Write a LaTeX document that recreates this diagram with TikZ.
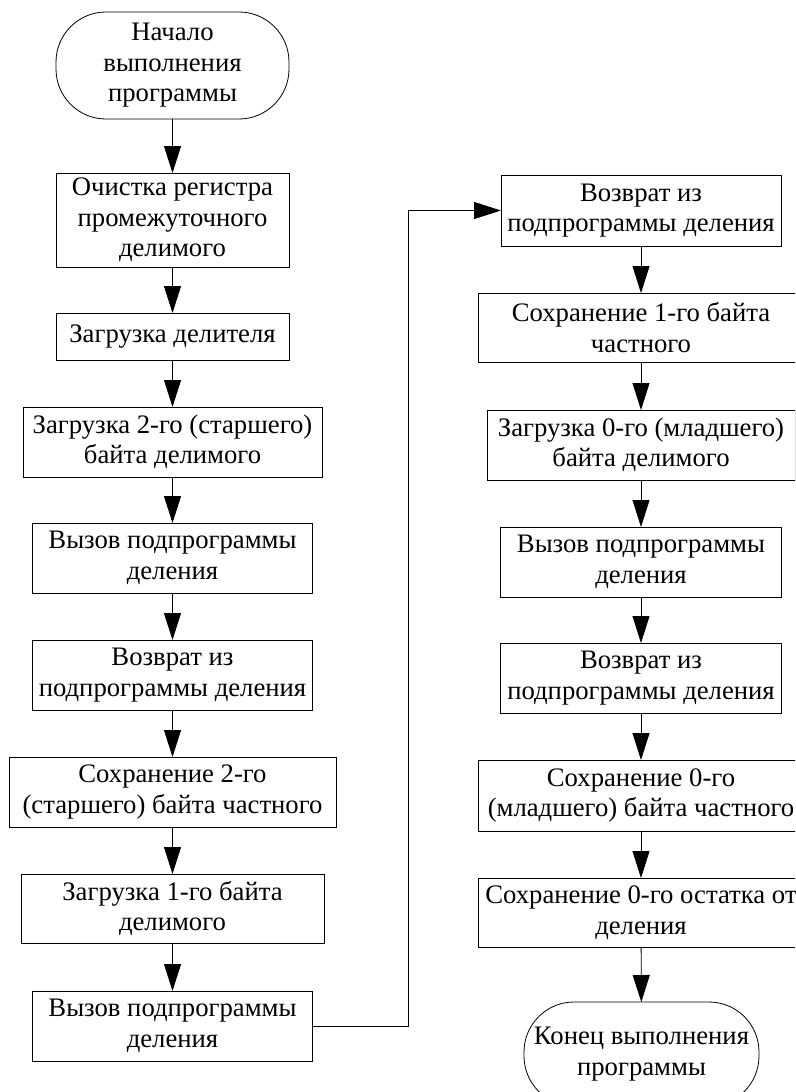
\documentclass[tikz,border=0pt]{standalone}
\usepackage{fontspec}
\setmainfont{Liberation Serif}
\usetikzlibrary{arrows.meta}
\begin{document}
\begin{tikzpicture}[x=1pt,y=-1pt,
  every node/.style={inner sep=0pt, outer sep=0pt, align=center,
    font=\fontsize{26.7pt}{30.5pt}\selectfont},
  proc/.style={draw, line width=0.8pt, rectangle},
  term/.style={draw, line width=0.8pt, rectangle, rounded corners=50pt},
  flow/.style={line width=0.8pt, -{Triangle[length=27pt,width=17pt]}}]
\useasboundingbox (0,0) rectangle (795,1092);
\clip (0,0) rectangle (795,1092);

% left column
\node[term, minimum width=233pt, minimum height=107pt] (start) at (172.5,65.5)
  {Начало\\выполнения\\программы};
\node[proc, minimum width=233pt, minimum height=94pt] (b1) at (172.5,220)
  {Очистка регистра\\промежуточного\\делимого};
\node[proc, minimum width=233pt, minimum height=47pt] (b2) at (172.5,336.5)
  {Загрузка делителя};
\node[proc, minimum width=299pt, minimum height=70pt] (b3) at (172.5,442)
  {Загрузка 2-го (старшего)\\байта делимого};
\node[proc, minimum width=280pt, minimum height=70pt] (b4) at (172.5,558)
  {Вызов подпрограммы\\деления};
\node[proc, minimum width=280pt, minimum height=70pt] (b5) at (172.5,675)
  {Возврат из\\подпрограммы деления};
\node[proc, minimum width=327pt, minimum height=70pt] (b6) at (172.5,792)
  {Сохранение 2-го\\(старшего) байта частного};
\node[proc, minimum width=303pt, minimum height=69pt] (b7) at (172.5,908.5)
  {Загрузка 1-го байта\\делимого};
\node[proc, minimum width=280pt, minimum height=70pt] (b8) at (172.5,1026)
  {Вызов подпрограммы\\деления};

% right column
\node[proc, minimum width=280pt, minimum height=71pt] (r1) at (641,210.5)
  {Возврат из\\подпрограммы деления};
\node[proc, minimum width=326pt, minimum height=69pt] (r2) at (641,327.5)
  {Сохранение 1-го байта\\частного};
\node[proc, minimum width=308pt, minimum height=70pt] (r3) at (641,445)
  {Загрузка 0-го (младшего)\\байта делимого};
\node[proc, minimum width=281pt, minimum height=70pt] (r4) at (641,562)
  {Вызов подпрограммы\\деления};
\node[proc, minimum width=281pt, minimum height=70pt] (r5) at (641,678)
  {Возврат из\\подпрограммы деления};
\node[proc, minimum width=326pt, minimum height=71pt] (r6) at (641,795.5)
  {Сохранение 0-го\\(младшего) байта частного};
\node[proc, minimum width=326pt, minimum height=69pt] (r7) at (641,912.5)
  {Сохранение 0-го остатка от\\деления};
\node[term, minimum width=235pt, minimum height=104pt] (stop) at (641.5,1054)
  {Конец выполнения\\программы};

% connectors
\draw[flow] (start) -- (b1);
\draw[flow] (b1) -- (b2);
\draw[flow] (b2) -- (b3);
\draw[flow] (b3) -- (b4);
\draw[flow] (b4) -- (b5);
\draw[flow] (b5) -- (b6);
\draw[flow] (b6) -- (b7);
\draw[flow] (b7) -- (b8);
\coordinate (jog) at (408,0);
\draw[flow] (b8.east) -- (b8.east -| jog) |- (r1.west);
\draw[flow] (r1) -- (r2);
\draw[flow] (r2) -- (r3);
\draw[flow] (r3) -- (r4);
\draw[flow] (r4) -- (r5);
\draw[flow] (r5) -- (r6);
\draw[flow] (r6) -- (r7);
\draw[flow] (r7) -- (stop);
\end{tikzpicture}
\end{document}
